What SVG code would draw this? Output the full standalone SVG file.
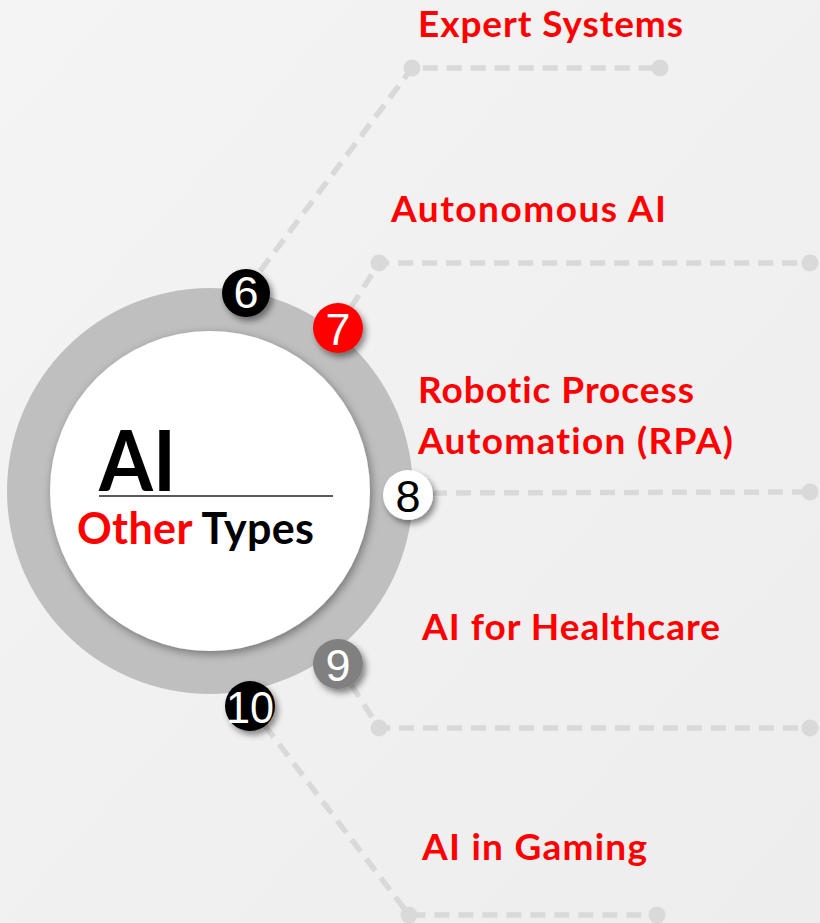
<svg xmlns="http://www.w3.org/2000/svg" width="820" height="923" viewBox="0 0 820 923">
<defs>
<linearGradient id="bg" x1="0" y1="0" x2="1" y2="1">
<stop offset="0" stop-color="#f4f4f4"/>
<stop offset="1" stop-color="#ededee"/>
</linearGradient>
<filter id="sh" x="-50%" y="-50%" width="200%" height="200%">
<feDropShadow dx="3" dy="4" stdDeviation="3" flood-color="#000" flood-opacity="0.45"/>
</filter>
<filter id="csh" x="-20%" y="-20%" width="140%" height="140%">
<feDropShadow dx="2" dy="3" stdDeviation="5" flood-color="#000" flood-opacity="0.4"/>
</filter>
<style>
text{font-variant-ligatures:none;font-feature-settings:"liga" 0,"dlig" 0}
.dash{fill:none;stroke:#d9d9d9;stroke-width:5.5;stroke-dasharray:15 9}
.dot{fill:#d9d9d9}
.lbl{font-family:Lato,"Open Sans","Liberation Sans",sans-serif;font-weight:700;font-size:37px;fill:#ff0000}
.num{font-family:"Liberation Sans",Arial,sans-serif;font-size:45px;fill:#ffffff;text-anchor:middle}
</style>
</defs>
<rect x="0" y="0" width="820" height="923" fill="url(#bg)"/>

<g id="connectors">
<path class="dash" d="M246,290 L412,68 L660,68"/>
<circle class="dot" cx="412" cy="68" r="8.5"/><circle class="dot" cx="660" cy="68" r="8.5"/>
<path class="dash" d="M338,328 L379,263 L810,263"/>
<circle class="dot" cx="379" cy="263" r="8.5"/><circle class="dot" cx="810" cy="263" r="8.5"/>
<path class="dash" d="M408,493 L810,492"/>
<circle class="dot" cx="810" cy="492" r="8.5"/>
<path class="dash" d="M338,664 L379,728 L810,728"/>
<circle class="dot" cx="379" cy="728" r="8.5"/><circle class="dot" cx="810" cy="728" r="8.5"/>
<path class="dash" d="M250,706 L409,915 L657,915"/>
<circle class="dot" cx="409" cy="915" r="8.5"/><circle class="dot" cx="657" cy="915" r="8.5"/>
</g>

<g id="hub">
<circle cx="210" cy="491" r="203" fill="#bfbfbf"/>
<circle cx="210" cy="491" r="160" fill="#ffffff" filter="url(#csh)"/>
<text x="99" y="491" font-family="Lato,'Open Sans','Liberation Sans',sans-serif" font-weight="700" font-size="84" fill="#000" textLength="77" lengthAdjust="spacingAndGlyphs">AI</text>
<line x1="99" y1="496" x2="333" y2="496" stroke="#595959" stroke-width="2"/>
<text x="77" y="544" font-family="Lato,'Open Sans','Liberation Sans',sans-serif" font-weight="700" font-size="43" textLength="237"><tspan fill="#ff0000">Other</tspan><tspan fill="#000000"> Types</tspan></text>
</g>

<g id="n6">
<circle cx="246" cy="293" r="24" fill="#000" filter="url(#sh)"/>
<text class="num" x="246" y="308">6</text>
<text class="lbl" x="418" y="37" textLength="265">Expert Systems</text>
</g>
<g id="n7">
<circle cx="338" cy="328" r="25" fill="#ff0000" filter="url(#sh)"/>
<text class="num" x="338" y="345">7</text>
<text class="lbl" x="391" y="222" textLength="275">Autonomous AI</text>
</g>
<g id="n8">
<circle cx="408" cy="495" r="25" fill="#ffffff" filter="url(#sh)"/>
<text class="num" x="408" y="512" style="fill:#000">8</text>
<text class="lbl" x="418" y="403" textLength="276">Robotic Process</text>
<text class="lbl" x="418" y="454" textLength="315">Automation (RPA)</text>
</g>
<g id="n9">
<circle cx="338" cy="664" r="25" fill="#808080" filter="url(#sh)"/>
<text class="num" x="338" y="681">9</text>
<text class="lbl" x="422" y="640" textLength="298">AI for Healthcare</text>
</g>
<g id="n10">
<circle cx="250" cy="706" r="25" fill="#000" filter="url(#sh)"/>
<text class="num" x="250" y="723" textLength="48" lengthAdjust="spacingAndGlyphs">10</text>
<text class="lbl" x="422" y="860" textLength="225">AI in Gaming</text>
</g>
</svg>
